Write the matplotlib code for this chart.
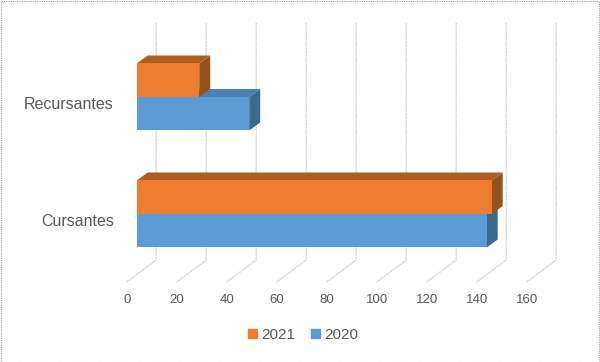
import matplotlib
matplotlib.use('Agg')
import matplotlib.pyplot as plt
import matplotlib.transforms as mtransforms
from matplotlib.patches import Polygon, Rectangle, Patch
from matplotlib.lines import Line2D

# datos
categorias = ['Cursantes', 'Recursantes']
serie_2021 = [142, 25]
serie_2020 = [140, 45]
ticks_x = [0, 20, 40, 60, 80, 100, 120, 140, 160]

plt.rcParams['font.family'] = ['Liberation Sans', 'DejaVu Sans']

W, H, DPI = 600, 362, 100
fig = plt.figure(figsize=(W / DPI, H / DPI), dpi=DPI)

# plano frontal de las barras (en pixeles de la imagen)
x0_px, px_por_unidad = 136.7, 2.5
cat0_px, paso_cat = 214, 117
top_px, bot_px = 30, 255
ax = fig.add_axes([x0_px / W, (H - bot_px) / H, 160 * px_por_unidad / W, (bot_px - top_px) / H])
ax.set_xlim(0, 160)
ax.set_ylim((cat0_px - bot_px) / paso_cat, (cat0_px - top_px) / paso_cat)
ax.axis('off')

alto = 33.5 / paso_cat
prof = (11, 8)          # profundidad de las barras
suelo_frente = (-10, -7.5)
suelo_fondo = (19.5, 14.5)
c_suelo = (cat0_px - 274.5) / paso_cat
c_techo = (cat0_px - 37.5) / paso_cat

def tr(dx, dy):
    return mtransforms.offset_copy(ax.transData, fig=fig, x=dx, y=dy, units='dots')

t_front = ax.transData
t_back = tr(*prof)
t_sf = tr(*suelo_frente)
t_sb = tr(*suelo_fondo)
ident = mtransforms.IdentityTransform()

def pts(pares):
    return [t.transform(p) for p, t in pares]

gris = '#C8C8C8'
# cuadricula: suelo y pared del fondo
for v in ticks_x:
    p = pts([((v, c_suelo), t_sf), ((v, c_suelo), t_sb), ((v, c_techo), t_sb)])
    ax.add_line(Line2D([q[0] for q in p], [q[1] for q in p], transform=ident, clip_on=False,
                       color=gris, lw=0.9, linestyle=(0, (1.2, 0.6)), zorder=0))
    ax.text(v, c_suelo, str(v), transform=tr(suelo_frente[0], suelo_frente[1] - 18),
            ha='center', va='center', fontsize=9.5, color='#595959')

z = [2]
def barra(y0, v, c_frente, c_arriba, c_lado):
    y1 = y0 + alto
    arriba = pts([((0, y1), t_front), ((v, y1), t_front), ((v, y1), t_back), ((0, y1), t_back)])
    lado = pts([((v, y0), t_front), ((v, y1), t_front), ((v, y1), t_back), ((v, y0), t_back)])
    for cara, col in [(arriba, c_arriba), (lado, c_lado)]:
        ax.add_patch(Polygon(cara, closed=True, transform=ident, facecolor=col,
                             edgecolor='none', clip_on=False, zorder=z[0]))
    ax.barh(y0, v, height=alto, align='edge', color=c_frente, zorder=z[0] + 0.5)
    z[0] += 1

naranja, azul = '#ED7D31', '#5B9BD5'
for i, cat in enumerate(categorias):
    barra(i - alto, serie_2020[i], azul, '#4A80B3', '#3A6A8E')
    barra(i, serie_2021[i], naranja, '#AD5D20', '#96521D')
    ax.text(0, i, cat, transform=tr(suelo_frente[0] - 13, suelo_frente[1]),
            ha='right', va='center', fontsize=11.5, color='#595959')

fig.legend(handles=[Patch(color=naranja, label='2021'), Patch(color=azul, label='2020')],
           loc='center', bbox_to_anchor=(303 / W, 1 - 335 / H), ncol=2, frameon=False,
           fontsize=11, handlelength=0.6, handleheight=0.6, handletextpad=0.3,
           columnspacing=1.0, labelcolor='#595959')

fig.add_artist(Rectangle((0.001, 0.001), 0.997, 0.996, transform=fig.transFigure, fill=False,
                         edgecolor='#A6A6A6', lw=0.8, linestyle=(0, (1, 1))))

fig.savefig('out.png', dpi=DPI)
